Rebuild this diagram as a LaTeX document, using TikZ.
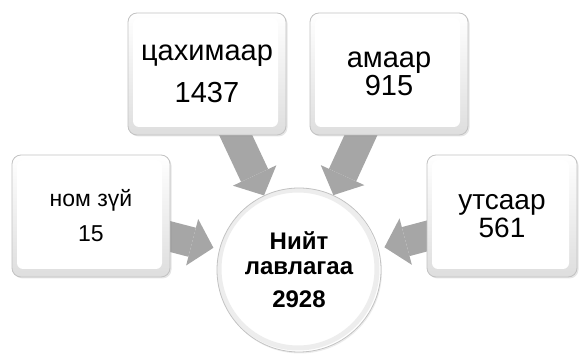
\documentclass[tikz,border=0pt]{standalone}
\usepackage{fontspec}
\setmainfont{Liberation Sans}
\usetikzlibrary{calc,positioning,arrows.meta,shadows,backgrounds}

\definecolor{arrowgray}{HTML}{A6A6A6}
\definecolor{rimgray}{HTML}{C2C2C2}

\tikzset{
  card/.style={draw=rimgray, line width=0.8pt, top color=white, bottom color=black!13,
    rounded corners=9pt, minimum width=158pt, minimum height=122pt, align=center, inner sep=0pt,
    drop shadow={opacity=0.2,shadow xshift=1.5pt,shadow yshift=-1.5pt},
    path picture={\fill[white,rounded corners=6pt]
      ([shift={(5pt,-5pt)}]path picture bounding box.north west) rectangle
      ([shift={(-8pt,8pt)}]path picture bounding box.south east);}},
  hubnode/.style={circle, draw=rimgray, line width=0.8pt, minimum size=164pt, align=center,
    fill=white, drop shadow={opacity=0.15,shadow xshift=1pt,shadow yshift=-1.5pt},
    path picture={\draw[black!7,line width=5pt]
      ([shift={(-1pt,1pt)}]path picture bounding box.center) circle (79pt);}},
  feed/.style={draw=arrowgray, line width=30pt, -{Triangle[length=22pt,width=48pt,line width=0pt]}}
}

\begin{document}
\begin{tikzpicture}[x=1pt,y=1pt]
        \useasboundingbox (0,0) rectangle (579,356);
        \node[hubnode,font=\bfseries\fontsize{24}{25}\selectfont] (hub) at (299,86) {Нийт\\лавлагаа\\[8pt]2928};
        \node[card,font=\fontsize{29}{42}\selectfont] (cyber) at (207,282) {цахимаар\\1437};
        \node[card,font=\fontsize{29}{28}\selectfont] (oral) at (389,282) {амаар\\915};
        \node[card,font=\fontsize{23}{35}\selectfont] (biblio) at (91,140) {ном зүй\\15};
        \node[card,minimum width=150pt,font=\fontsize{28}{28}\selectfont] (phone) at (502,140) {утсаар\\561};
        \begin{pgfonlayer}{background}
        \draw[feed] (cyber.center) -- (hub);
        \draw[feed] (oral.center) -- (hub);
        \draw[feed,shorten >=6pt] (biblio.center) -- (hub);
        \draw[feed,shorten >=6pt] (phone.center) -- (hub);
        \end{pgfonlayer}
\end{tikzpicture}
\end{document}
